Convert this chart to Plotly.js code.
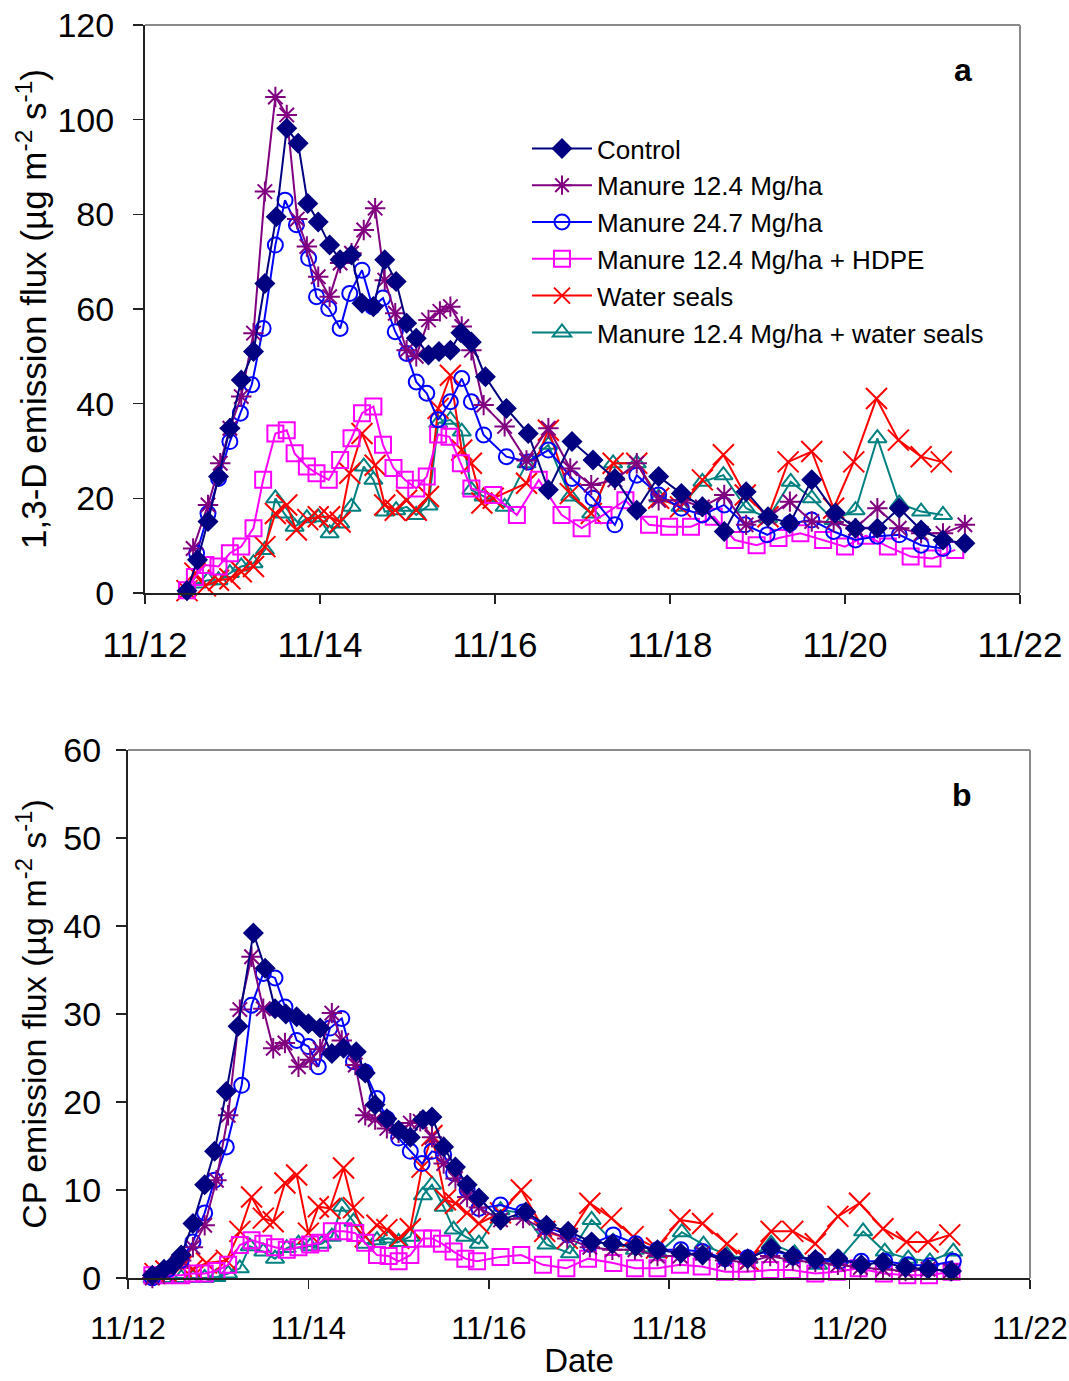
<!DOCTYPE html>
<html>
<head>
<meta charset="utf-8">
<script src="https://cdn.plot.ly/plotly-3.0.1.min.js"></script>
<style>
html,body{margin:0;padding:0;background:#fff;}
#chart{width:1069px;height:1381px;}
</style>
</head>
<body>
<div id="chart"></div>
<script>
// ---- Time axis (days after 11/12 00:00) ----
const tickVals = [0, 2, 4, 6, 8, 10];
const tickText = ['11/12', '11/14', '11/16', '11/18', '11/20', '11/22'];
const seriesNames = ['Control', 'Manure 12.4 Mg/ha', 'Manure 24.7 Mg/ha', 'Manure 12.4 Mg/ha + HDPE', 'Water seals', 'Manure 12.4 Mg/ha + water seals'];

// ---- Panel a: 1,3-D emission flux ----
const ctrlT = [0.48,0.60,0.72,0.84,0.97,1.10,1.24,1.37,1.50,1.62,1.75,1.86,1.98,2.11,2.23,2.36,2.48,2.61,2.74,2.87,2.99,3.10,3.24,3.36,3.49,3.61,3.73,3.89,4.13,4.38,4.61,4.88,5.12,5.37,5.62,5.87,6.13,6.37,6.62,6.87,7.12,7.37,7.62,7.89,8.12,8.37,8.62,8.87,9.12,9.37];
const ctrlY = [0.5,7,15.1,24.6,34.8,45,51,65.4,79.5,98.2,95,82.3,78.4,73.5,70.4,71.4,61.2,60.5,70.4,65.8,57,53.8,50.3,51,51.3,55,53,45.7,39,33.7,21.8,32,28.1,24.2,17.5,24.6,21,18.2,13,21.4,16.1,14.7,23.9,16.9,13.7,13.7,17.9,13.3,11.2,10.5];

const m1T = [0.55,0.72,0.86,0.97,1.10,1.24,1.37,1.49,1.62,1.74,1.85,1.98,2.11,2.23,2.36,2.50,2.63,2.74,2.86,2.99,3.10,3.24,3.37,3.49,3.62,3.73,3.87,4.11,4.36,4.61,4.86,5.10,5.37,5.62,5.87,6.13,6.37,6.62,6.87,7.12,7.37,7.62,7.87,8.12,8.37,8.62,8.87,9.12,9.37];
const m1Y = [9.4,18.6,27.4,34.8,41.5,54.9,84.8,104.8,101,79,73.2,66.8,62.6,69.7,71.8,76.7,81.3,66.1,59.1,51.3,50,57.7,59.5,60.5,56.3,51.3,39.7,35.2,28,34.8,26.3,22.8,23.9,27.4,19.6,19.6,18.2,20.7,14.4,16,19.3,15.1,15,13.7,17.9,13.7,12.6,12.6,14.4];

const m2T = [0.59,0.72,0.84,0.97,1.09,1.22,1.35,1.49,1.60,1.73,1.87,1.96,2.10,2.23,2.34,2.48,2.60,2.72,2.86,2.99,3.10,3.22,3.35,3.49,3.62,3.73,3.87,4.13,4.38,4.61,4.88,5.12,5.37,5.62,5.87,6.13,6.37,6.62,6.86,7.11,7.37,7.62,7.87,8.12,8.37,8.62,8.87,9.12];
const m2Y = [8.4,16.8,24.2,32,38,44,55.9,73.5,83,77.8,70.7,62.6,60.1,55.9,63.3,68.2,60.5,62.3,55.2,50.6,44.6,42.2,36.6,40.4,45.3,40.4,33.4,28.8,27.7,30.2,24.2,20,14.4,24.9,20.7,17.9,16.5,18.6,14.4,12.3,14.7,15.4,13,11.2,12,12.3,10.1,9.4];

const hdT = [0.48,0.57,0.69,0.84,0.97,1.10,1.24,1.35,1.49,1.62,1.71,1.85,1.96,2.10,2.23,2.36,2.48,2.61,2.72,2.84,2.97,3.10,3.22,3.35,3.48,3.61,3.73,3.98,4.25,4.50,4.76,4.99,5.24,5.49,5.76,5.99,6.24,6.50,6.74,6.99,7.24,7.49,7.75,8.00,8.24,8.49,8.75,9.00,9.26];
const hdY = [0.6,3.4,5.9,5.6,8.4,9.8,13.7,23.9,33.7,34.4,29.5,26.7,25.3,23.9,28.1,32.7,38,39.4,31.3,26.4,23.9,22.1,24.6,33.5,33,27.4,22.1,20.7,16.5,23.9,16.5,13.7,16.5,19.6,14.4,14,14,16.1,11.2,10.1,11.6,12.6,11.2,9.8,12.1,9.8,7.7,7.3,9.1];

const wsT = [0.48,0.57,0.69,0.84,0.97,1.10,1.24,1.37,1.49,1.62,1.73,1.86,1.98,2.11,2.23,2.34,2.48,2.63,2.74,2.86,2.99,3.10,3.24,3.35,3.49,3.62,3.73,3.85,3.98,4.36,4.61,4.86,5.10,5.35,5.62,5.87,6.12,6.37,6.61,6.86,7.12,7.35,7.62,7.87,8.10,8.36,8.61,8.87,9.10];
const wsY = [0.5,4.2,1.5,2.7,3,4.5,5.6,9.8,16.8,18.6,13.3,15.5,16.1,16.1,15,25.3,33.7,27,18.6,17.5,19.6,17.5,20.4,39,46,30.2,27.4,19,20,23.2,34.4,21,16.8,27.4,27.4,20,18.2,23.9,29.2,20.7,16.1,27.7,29.9,17.9,27.7,41.1,32.3,28.8,27.7];

const wmT = [0.48,0.59,0.72,0.84,0.97,1.10,1.24,1.37,1.49,1.59,1.71,1.85,1.98,2.11,2.23,2.36,2.50,2.61,2.74,2.87,2.99,3.10,3.24,3.35,3.49,3.62,3.73,3.87,4.11,4.36,4.61,4.86,5.10,5.35,5.62,5.87,6.12,6.37,6.61,6.87,7.12,7.38,7.62,7.87,8.12,8.37,8.62,8.87,9.12];
const wmY = [0.6,2,2.7,2.7,4.2,5.6,6.3,9.1,20,16.8,14,15.8,16,12.6,14.7,18.2,26.7,23.9,17.2,17.5,18.2,16.5,18.5,35.9,36.6,34.1,21.8,20.4,18.2,27.4,31.3,20.4,16.8,27.4,27.4,20.2,18.2,23.5,24.9,17.9,15.8,23.5,20,15.4,17.5,32.7,18.9,17.2,16.5];

// ---- Panel b: CP emission flux ----
const cbT = [0.27,0.40,0.50,0.59,0.72,0.85,0.96,1.09,1.22,1.39,1.52,1.63,1.75,1.87,2.00,2.13,2.26,2.39,2.53,2.63,2.74,2.87,3.00,3.13,3.27,3.37,3.50,3.63,3.76,3.89,4.13,4.41,4.64,4.88,5.14,5.37,5.63,5.87,6.13,6.37,6.62,6.87,7.13,7.37,7.62,7.87,8.13,8.37,8.62,8.87,9.13];
const cbY = [0.3,1,1.5,2.6,6.2,10.6,14.4,21.2,28.6,39.2,35.2,30.6,30,29.7,28.9,28.4,25.5,26.1,25.7,23.3,19.7,18.1,16.8,16,18,18.3,14.9,12.6,10.6,9.1,6.6,7.5,6,5.3,4.1,3.9,3.6,3.2,2.8,2.6,2.3,2.2,3.4,2.5,2.1,2.2,1.5,1.8,1.2,1,0.8];

const pbT = [0.27,0.40,0.59,0.72,0.85,0.98,1.11,1.24,1.37,1.50,1.61,1.74,1.89,2.02,2.13,2.26,2.37,2.52,2.63,2.74,2.87,3.00,3.13,3.24,3.37,3.50,3.63,3.76,3.89,4.13,4.38,4.62,4.87,5.12,5.37,5.62,5.87,6.12,6.37,6.62,6.87,7.12,7.37,7.62,7.87,8.12,8.37,8.62,8.87,9.12];
const pbY = [0,0.5,2,3.5,6,11.1,18.5,30.5,36.5,30.6,26.1,26.7,24,24.8,26,30.1,27,24.2,18.5,18,17,16.5,17.6,17.8,16,13,11.3,9.2,8,6.6,6.8,5.5,4.5,3.5,3.2,3.2,2.5,2.5,2.8,2,1.8,2.5,2,1.8,1.5,1.2,1,0.8,1,0.8];

const bbT = [0.27,0.45,0.59,0.72,0.85,0.96,1.09,1.26,1.37,1.50,1.63,1.74,1.87,2.00,2.11,2.24,2.37,2.50,2.63,2.76,2.87,3.00,3.13,3.26,3.37,3.50,3.61,3.76,3.89,4.13,4.38,4.63,4.88,5.12,5.38,5.63,5.87,6.13,6.37,6.62,6.87,7.13,7.38,7.63,7.89,8.13,8.39,8.65,8.89,9.15];
const bbY = [0,1,2,4.1,7.4,11.1,14.9,21.9,31,34.6,34.1,30.8,27,26.3,24,28.4,29.5,24.6,23.4,20.4,18.1,15.9,14.4,13,14.4,14,11.9,10,7.9,8.3,7.5,5.8,4.9,3.8,4.9,3.9,3.2,3.2,3,2.2,2.3,3.2,2.4,2,1.9,1.9,1.9,1.5,1.4,1.9];

const rbT = [0.30,0.42,0.59,0.72,0.87,1.09,1.24,1.37,1.50,1.61,1.74,1.87,2.00,2.11,2.24,2.39,2.50,2.63,2.76,2.87,3.00,3.13,3.26,3.37,3.52,3.63,3.76,3.89,4.13,4.36,4.62,4.87,5.12,5.36,5.60,5.86,6.12,6.37,6.64,6.88,7.13,7.37,7.62,7.87,8.11,8.37,8.63,8.87,9.11];
const rbY = [0.5,0.8,1.3,1,1.7,2,5.3,9.2,6.8,6.4,10.8,11.7,5.1,8.1,7.9,12.5,8,4.7,6,5.5,4.5,5.6,12.6,16.2,8.9,8.5,7.4,6.2,7.4,10,5.3,4.5,8.5,6.8,4.7,3.4,6.6,6.2,3.9,2,5.3,5.3,3.9,7,8.5,5.6,4.1,4.1,4.9];

const tbT = [0.27,0.40,0.59,0.72,0.85,0.98,1.11,1.24,1.35,1.50,1.63,1.76,1.89,2.02,2.15,2.26,2.37,2.50,2.63,2.76,2.89,3.00,3.13,3.27,3.37,3.50,3.61,3.74,3.89,4.13,4.38,4.64,4.90,5.14,5.38,5.62,5.88,6.14,6.38,6.64,6.88,7.13,7.39,7.65,7.89,8.15,8.39,8.65,8.89,9.15];
const tbY = [0,0,0,0,0,0.1,0.5,1.1,3.6,3,2.2,3.4,3.9,3.6,3.9,4.7,8.1,6.4,3.9,4.3,4.5,4.1,4.7,9.4,10.6,8.1,5.5,4.7,3.9,7.7,7.4,3.8,2.8,6.6,4.1,3.2,2.8,5.2,3.8,2.6,2.2,3.9,2.8,1.5,2.2,5.3,3,2.2,1.9,3];

const hbT = [0.27,0.40,0.59,0.72,0.85,0.98,1.11,1.24,1.37,1.50,1.63,1.76,1.89,2.02,2.13,2.26,2.39,2.52,2.63,2.76,2.89,3.00,3.13,3.27,3.37,3.48,3.61,3.74,3.87,4.13,4.36,4.60,4.86,5.10,5.38,5.62,5.87,6.12,6.36,6.62,6.86,7.12,7.36,7.62,7.86,8.10,8.38,8.64,8.88,9.13];
const hbY = [0.3,0.3,0.3,0.5,0.5,0.8,1.5,3.75,4.3,3.9,3.5,3.2,3.5,3.8,4,5.3,5.3,5.1,4,2.6,2.5,1.9,2.6,4.5,4.5,3.9,3,2.2,1.9,2.4,2.6,1.5,1.1,2.2,1.7,1.1,1.1,1.5,1.3,0.7,0.7,0.9,0.9,0.5,0.7,1.1,0.5,0.3,0.3,0.7];

// ---- Styles ----
const styles = [
  {color:'#000080', symbol:'diamond', size:14},
  {color:'#800080', symbol:'asterisk-open', size:17},
  {color:'#0000FF', symbol:'circle-open', size:15},
  {color:'#FF00FF', symbol:'square-open', size:16},
  {color:'#FF0000', symbol:'x-thin-open', size:21},
  {color:'#008080', symbol:'triangle-up-open', size:16}
];

function mk(x, y, i, panel) {
  const s = styles[i];
  return {
    x: x, y: y, type:'scatter', mode:'lines+markers',
    name: seriesNames[i], showlegend: panel === 1, legendrank: i + 1,
    xaxis: panel === 1 ? 'x' : 'x2', yaxis: panel === 1 ? 'y' : 'y2',
    line: {color: s.color, width: 2},
    marker: {symbol: s.symbol, size: s.size, color: s.color, line: {color: s.color, width: 2}},
    cliponaxis: false
  };
}

const topData = [[ctrlT,ctrlY],[m1T,m1Y],[m2T,m2Y],[hdT,hdY],[wsT,wsY],[wmT,wmY]];
const botData = [[cbT,cbY],[pbT,pbY],[bbT,bbY],[hbT,hbY],[rbT,rbY],[tbT,tbY]];
// drawing order: Control drawn last (on top)
const order = [5,4,3,2,1,0];
const traces = [];
order.forEach(i => traces.push(mk(topData[i][0], topData[i][1], i, 1)));
order.forEach(i => traces.push(mk(botData[i][0], botData[i][1], i, 2)));

const font = 'Liberation Sans, Arial, sans-serif';
const W = 1069, H = 1381;
const axX = {
  range:[0,10], tickvals: tickVals, ticktext: tickText, ticks:'outside', ticklen:9, tickwidth:1.5,
  tickcolor:'#222', showline:true, linecolor:'#222', linewidth:2, showgrid:false, zeroline:false,
  tickfont:{family:font, size:35, color:'#000'}, ticklabelstandoff:11, ticklabeloverflow:'allow'
};
const axY = {
  ticks:'outside', ticklen:10, tickwidth:1.5, tickcolor:'#222', showline:true, linecolor:'#222', linewidth:2,
  showgrid:false, zeroline:false, tickfont:{family:font, size:34, color:'#000'}
};
const layout = {
  width: W, height: H, margin:{l:0,r:0,t:0,b:0},
  paper_bgcolor:'#fff', plot_bgcolor:'#fff',
  font:{family:font, color:'#000'},
  showlegend:true,
  legend:{x:527/W, y:1-125/H, xanchor:'left', yanchor:'top', traceorder:'normal',
          font:{family:font, size:26, color:'#000'}, bgcolor:'rgba(0,0,0,0)', itemwidth:60, tracegroupgap:0},
  xaxis: Object.assign({}, axX, {domain:[145/W, 1020/W], anchor:'y'}),
  yaxis: Object.assign({}, axY, {domain:[1-593/H, 1-25/H], anchor:'x', range:[0,120], dtick:20, ticklabelstandoff:12,
          title:{text:'1,3-D emission flux (µg m<sup>-2</sup> s<sup>-1</sup>)', font:{family:font, size:35, color:'#000'}, standoff:0}}),
  xaxis2: Object.assign({}, axX, {domain:[128/W, 1030/W], anchor:'y2', ticklabelstandoff:13,
          tickfont:{family:font, size:31, color:'#000'},
          title:{text:'Date', font:{family:font, size:33, color:'#000'}, standoff:4}}),
  yaxis2: Object.assign({}, axY, {domain:[1-1278/H, 1-750/H], anchor:'x2', range:[0,60], dtick:10, ticklabelstandoff:8,
          title:{text:'CP emission flux (µg m<sup>-2</sup> s<sup>-1</sup>)', font:{family:font, size:34, color:'#000'}, standoff:6}}),
  shapes:[
    {type:'line', xref:'x domain', yref:'y domain', x0:0, x1:1, y0:1, y1:1, line:{color:'#8a8a8a', width:2}},
    {type:'line', xref:'x domain', yref:'y domain', x0:1, x1:1, y0:0, y1:1, line:{color:'#8a8a8a', width:2}},
    {type:'line', xref:'x2 domain', yref:'y2 domain', x0:0, x1:1, y0:1, y1:1, line:{color:'#8a8a8a', width:2}},
    {type:'line', xref:'x2 domain', yref:'y2 domain', x0:1, x1:1, y0:0, y1:1, line:{color:'#8a8a8a', width:2}}
  ],
  annotations:[
    {text:'<b>a</b>', x:963/W, y:1-70/H, xref:'paper', yref:'paper', xanchor:'center', yanchor:'middle', showarrow:false, font:{family:font, size:32, color:'#000'}},
    {text:'<b>b</b>', x:962/W, y:1-795/H, xref:'paper', yref:'paper', xanchor:'center', yanchor:'middle', showarrow:false, font:{family:font, size:32, color:'#000'}}
  ]
};
Plotly.newPlot('chart', traces, layout, {displayModeBar:false, staticPlot:true});
</script>
</body>
</html>
